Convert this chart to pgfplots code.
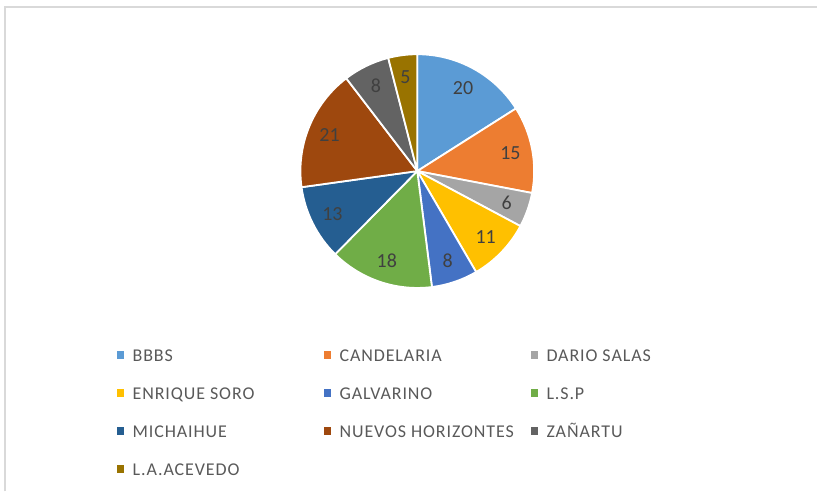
\documentclass[border=0pt]{standalone}
\usepackage{pgfplots}
\pgfplotsset{compat=1.18}
\usepackage{pgfplotstable}
\usepackage{fontspec}
\setmainfont{Carlito}

\definecolor{c1}{HTML}{5B9BD5}
\definecolor{c2}{HTML}{ED7D31}
\definecolor{c3}{HTML}{A5A5A5}
\definecolor{c4}{HTML}{FFC000}
\definecolor{c5}{HTML}{4472C4}
\definecolor{c6}{HTML}{70AD47}
\definecolor{c7}{HTML}{255E91}
\definecolor{c8}{HTML}{9E480E}
\definecolor{c9}{HTML}{636363}
\definecolor{c10}{HTML}{997300}
\definecolor{lblc}{HTML}{404040}
\definecolor{legc}{HTML}{595959}
\definecolor{framec}{HTML}{D9D9D9}

% slices clockwise from 12 o'clock
\pgfplotstableread[col sep=comma]{
name,value,color
BBBS,20,c1
CANDELARIA,15,c2
DARIO SALAS,6,c3
ENRIQUE SORO,11,c4
GALVARINO,8,c5
L.S.P,18,c6
MICHAIHUE,13,c7
NUEVOS HORIZONTES,21,c8
ZAÑARTU,8,c9
L.A.ACEVEDO,5,c10
}\piedata

\begin{document}
\begin{tikzpicture}[lbl/.style={font=\fontsize{10}{12}\selectfont, text=lblc, inner sep=0pt}]
\begin{axis}[
  x=0.5pt, y=0.5pt,
  xmin=0, xmax=818, ymin=0, ymax=492,
  hide axis, clip=false,
  legend columns=3,
  legend image code/.code={\fill[#1] (0pt,-1.2pt) rectangle (3.25pt,2.05pt);},
  legend style={draw=none, fill=none, inner sep=0pt,
    at={(axis cs:116.7,141.8)}, anchor=north west,
    font=\fontsize{9}{11}\selectfont\addfontfeature{LetterSpace=5}, text=legc,
    row sep=13.2pt,
    nodes={inner sep=0pt, text height=5.8pt, text depth=0pt},
    /tikz/every odd column/.append style={column sep=4.2pt}},
]
\path (axis cs:0,0) rectangle (axis cs:818,492);
\draw[framec, line width=1pt] (axis cs:5,0) -- (axis cs:5,485) -- (axis cs:818,485);

\pgfplotstablegetrowsof{\piedata}
\pgfmathtruncatemacro\nrows{\pgfplotsretval-1}
\def\total{0}
\pgfplotsforeachungrouped \i in {0,...,\nrows}{%
  \pgfplotstablegetelem{\i}{value}\of\piedata
  \pgfmathsetmacro\total{\total+\pgfplotsretval}
}
\def\cum{0}
\pgfplotsforeachungrouped \i in {0,...,\nrows}{%
  \pgfplotstablegetelem{\i}{value}\of\piedata \let\pval\pgfplotsretval
  \pgfplotstablegetelem{\i}{color}\of\piedata \let\pcol\pgfplotsretval
  \pgfplotstablegetelem{\i}{name}\of\piedata \let\pname\pgfplotsretval
  \pgfmathsetmacro\sa{90-\cum/\total*360}
  \pgfmathsetmacro\sb{90-(\cum+\pval)/\total*360}
  \pgfmathsetmacro\sm{(\sa+\sb)/2}
  \pgfmathsetmacro\lx{417.8+95*cos(\sm)}
  \pgfmathsetmacro\ly{320.7+95*sin(\sm)}
  \edef\cmd{%
    \noexpand\fill[\pcol, draw=white, line width=0.9pt] (axis cs:417.8,320.7) -- ++(\sa:58.5pt)
      arc[start angle=\sa, end angle=\sb, radius=58.5pt] -- cycle;
    \noexpand\node[lbl] at (axis cs:\lx,\ly) {\pval};
    \noexpand\addlegendimage{\pcol}
    \noexpand\addlegendentry{\noexpand\makebox[95.75pt][l]{\pname}}%
  }%
  \cmd
  \pgfmathsetmacro\cum{\cum+\pval}
}
\end{axis}
\end{tikzpicture}
\end{document}
